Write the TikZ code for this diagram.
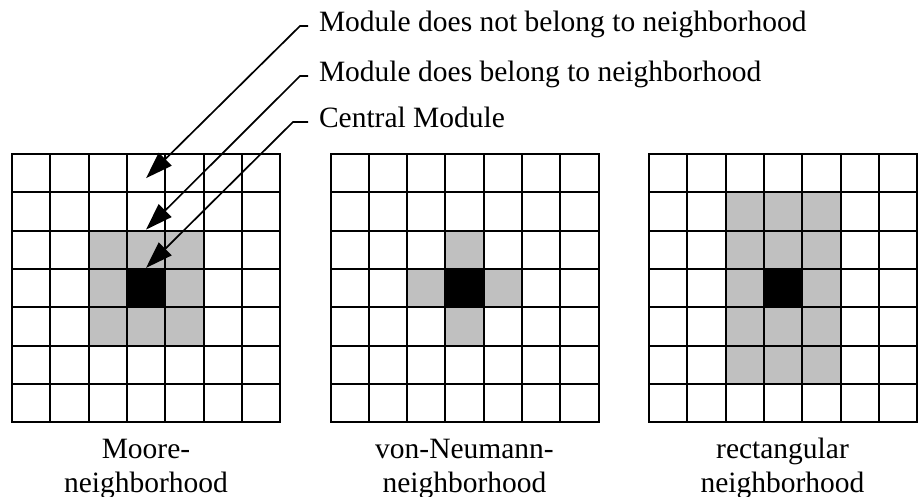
\documentclass[tikz,border=0pt]{standalone}
\usepackage{fontspec}
\setmainfont{Liberation Serif}
\usetikzlibrary{arrows.meta,calc,backgrounds}
\definecolor{nbgray}{RGB}{192,192,192}

\begin{document}
\begin{tikzpicture}[x=0.5pt,y=-0.5pt,
  every node/.style={align=center,inner sep=0pt,outer sep=0pt,
    font=\fontsize{14.75}{17}\selectfont},
  cell/.style={draw,line width=1pt,minimum size=19.15pt,anchor=north west},
  pointer/.style={line width=0.85pt,-{Triangle[length=13.5pt,width=9pt]}},
  nb/.style={fill=nbgray},
  centre/.style={fill=black}]
\useasboundingbox (0,0) rectangle (920,497) ;

\foreach \g/\x in {moore/12,neumann/330.5,rect/649}
  \foreach \r in {0,...,6}
    \foreach \c in {0,...,6}
      \node (\g-\r-\c) [cell] at (\x+38.3*\c,154+38.3*\r) {};

\begin{scope}[on background layer]
\fill [nb] (moore-2-2.north west) rectangle (moore-4-4.south east) ;
\fill [nb] (neumann-2-3.north west) rectangle (neumann-4-3.south east)
           (neumann-3-2.north west) rectangle (neumann-3-4.south east) ;
\fill [nb] (rect-1-2.north west) rectangle (rect-5-4.south east) ;
\foreach \g in {moore,neumann,rect}
  \fill [centre] (\g-3-3.north west) rectangle (\g-3-3.south east) ;
\end{scope}

\node (notnb) [anchor=base west] at (319,32) {Module does not belong to neighborhood};
\node (isnb) [anchor=base west] at (319,82) {Module does belong to neighborhood};
\node (central) [anchor=base west] at (319,128) {Central Module};

\foreach \l/\t/\d/\h in {notnb/moore-0-3.center/5/8,isnb/moore-2-3.north/-1/8,central/moore-3-3.north/-1/15}
  \draw [pointer] ($(\l.base west)+(-11,-6)$) -- ++(-\h,0) -- ($(\t)+(0,\d)$) ;

\node (moorelbl) [anchor=base] at (146,492.7) {Moore-\\neighborhood};
\node (neumannlbl) [anchor=base] at (464.5,492.7) {von-Neumann-\\neighborhood};
\node (rectlbl) [anchor=base] at (782.5,492.7) {rectangular\\neighborhood};
\end{tikzpicture}
\end{document}
